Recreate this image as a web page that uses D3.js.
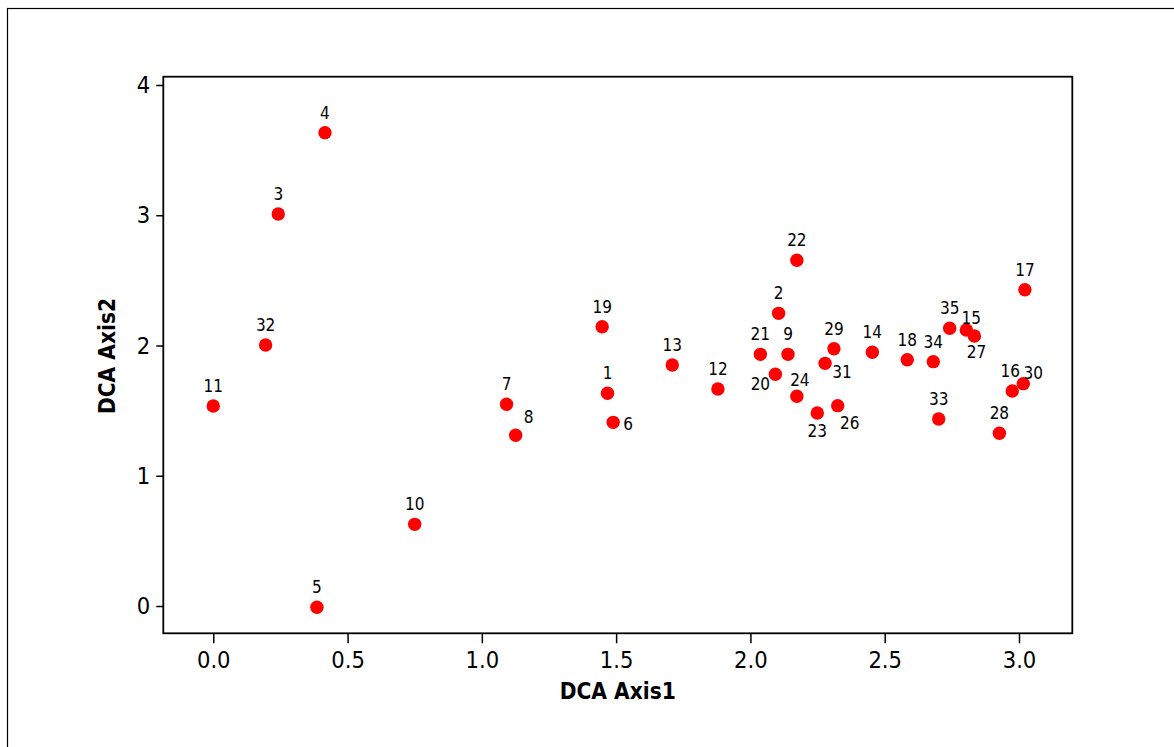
<!DOCTYPE html>
<html><head><meta charset="utf-8">
<script src="https://cdn.jsdelivr.net/npm/d3@7"></script>
<style>body{margin:0;background:#fff}svg{display:block}</style>
</head><body>
<svg id="c" width="1174" height="747"></svg>
<script>
const labels = ["1","2","3","4","5","6","7","8","9","10","11","12","13","14","15","16","17","18","19","20","21","22","23","24","26","27","28","29","30","31","32","33","34","35"];
const axis1 = [1.468,2.105,0.242,0.416,0.386,1.489,1.092,1.126,2.140,0.750,0.000,1.879,1.709,2.454,2.804,2.975,3.022,2.584,1.448,2.093,2.037,2.173,2.249,2.173,2.325,2.834,2.927,2.311,3.016,2.278,0.195,2.701,2.681,2.742];
const axis2 = [1.633,2.247,3.010,3.634,-0.010,1.410,1.549,1.311,1.932,0.627,1.536,1.666,1.850,1.948,2.119,1.651,2.428,1.891,2.144,1.779,1.932,2.654,1.482,1.610,1.538,2.073,1.326,1.975,1.707,1.863,2.004,1.436,1.876,2.132];
const xTicks = [0,0.5,1.0,1.5,2.0,2.5,3.0];
const yTicks = [0,1,2,3,4];
const xTitle = "DCA Axis1";
const yTitle = "DCA Axis2";

const svg = d3.select("#c");
const L = 163.3, R = 1072.3, T = 76.7, B = 633.3;
const x = d3.scaleLinear().domain([-0.186, 3.1985]).range([L, R]);
const y = d3.scaleLinear().domain([-0.2096, 4.0637]).range([B, T]);

// outer frame (cropped)
svg.append("rect").attr("x",7.5).attr("y",8.5).attr("width",1200).attr("height",800)
  .attr("fill","none").attr("stroke","#000").attr("stroke-width",1.2);

const tickFont = "'DejaVu Sans Condensed','DejaVu Sans',sans-serif";

// x axis
const gx = svg.append("g").attr("transform",`translate(0,${B})`)
  .call(d3.axisBottom(x).tickValues(xTicks).tickFormat(d3.format(".1f")).tickSize(10).tickSizeOuter(0).tickPadding(8));
gx.select(".domain").remove();
gx.selectAll("line").attr("stroke","#000").attr("stroke-width",1.5);
gx.selectAll("text").attr("font-family",tickFont).attr("font-size",23.5).attr("fill","#000");

// y axis
const gy = svg.append("g").attr("transform",`translate(${L},0)`)
  .call(d3.axisLeft(y).tickValues(yTicks).tickFormat(d3.format("d")).tickSize(7).tickSizeOuter(0).tickPadding(6));
gy.select(".domain").remove();
gy.selectAll("line").attr("stroke","#000").attr("stroke-width",1.5);
gy.selectAll("text").attr("font-family",tickFont).attr("font-size",23.5).attr("fill","#000");

// plot frame
svg.append("rect").attr("x",L).attr("y",T).attr("width",R-L).attr("height",B-T)
  .attr("fill","none").attr("stroke","#000").attr("stroke-width",1.8);

// points
const data = labels.map((l,i)=>({l, a:axis1[i], b:axis2[i]}));
svg.append("g").selectAll("circle").data(data).join("circle")
  .attr("cx",d=>x(d.a)).attr("cy",d=>y(d.b)).attr("r",6.7).attr("fill","#ff0000");

// label offsets (layout)
const off = {"6":[15,8],"8":[13,-12],"20":[-15,16],"24":[3,-10],"23":[0,24],"26":[12,23],
  "31":[17,15],"27":[2,22],"15":[5,-6],"30":[10,-5],"16":[-2,-14]};
svg.append("g").selectAll("text").data(data).join("text")
  .attr("x",d=>x(d.a)+(off[d.l]?off[d.l][0]:0))
  .attr("y",d=>y(d.b)+(off[d.l]?off[d.l][1]:-14))
  .attr("text-anchor","middle").attr("font-family",tickFont).attr("font-size",17).attr("fill","#000")
  .text(d=>d.l);

// titles
svg.append("text").attr("x",(L+R)/2).attr("y",699).attr("text-anchor","middle")
  .attr("font-family",tickFont).attr("font-weight","bold").attr("font-size",22.5).attr("fill","#000").text(xTitle);
svg.append("text").attr("transform",`translate(115,${(T+B)/2+1}) rotate(-90)`).attr("text-anchor","middle")
  .attr("font-family",tickFont).attr("font-weight","bold").attr("font-size",22.5).attr("fill","#000").text(yTitle);
</script>
</body></html>
